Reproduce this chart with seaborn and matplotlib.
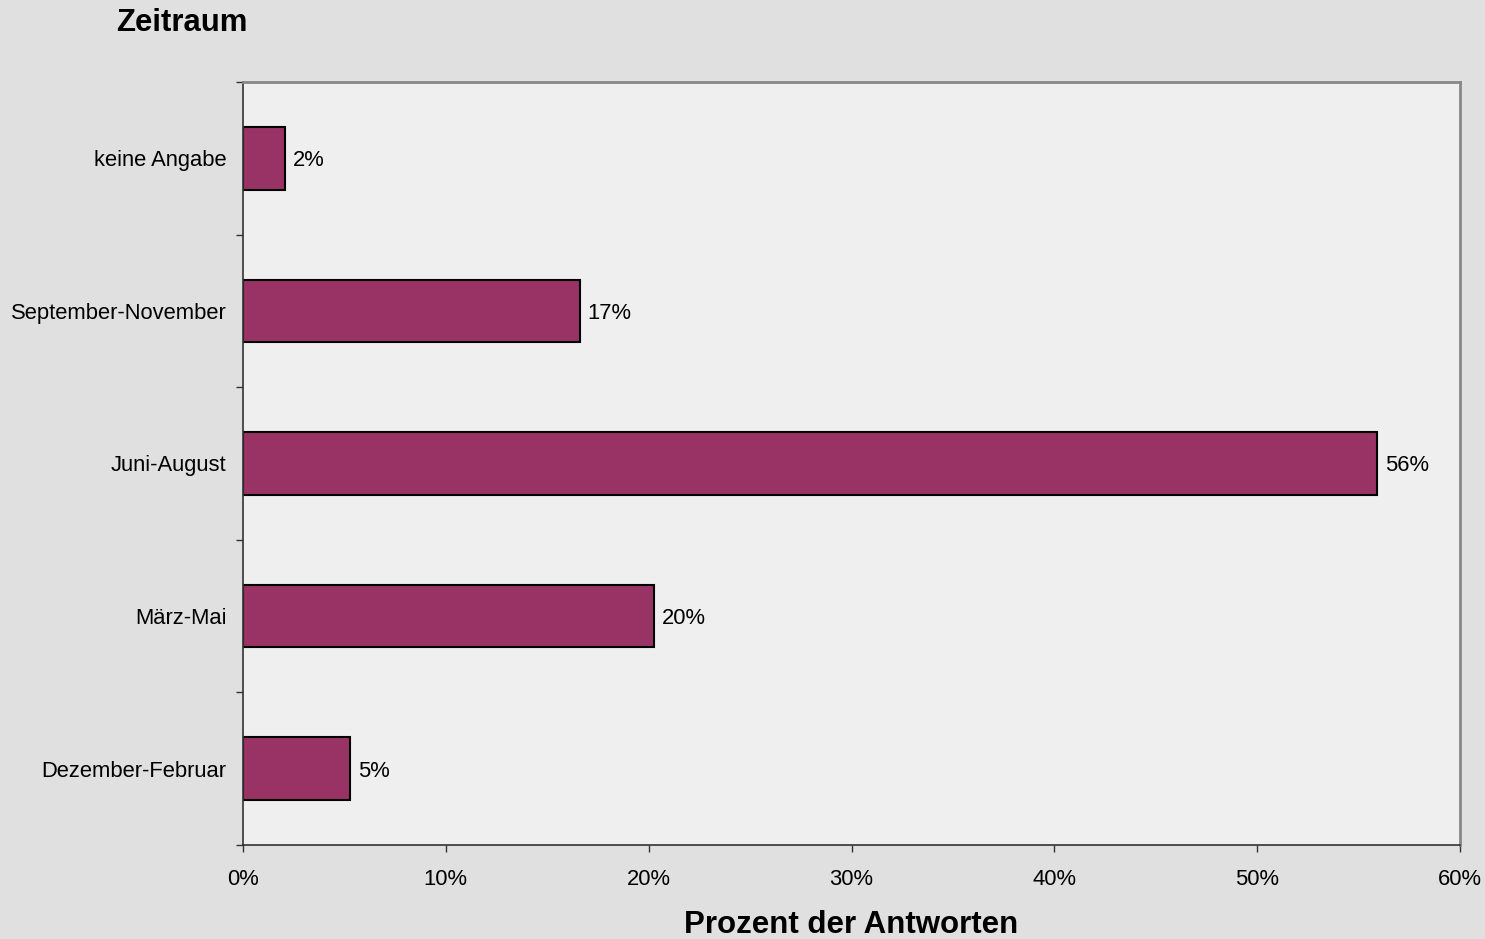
import matplotlib
matplotlib.use("Agg")
import matplotlib.pyplot as plt
import seaborn as sns
import numpy as np
import pandas as pd

# data (top to bottom as shown)
categories = ["keine Angabe", "September-November", "Juni-August", "März-Mai", "Dezember-Februar"]
percent = [2.07, 16.6, 55.9, 20.25, 5.28]
x_ticks = [0, 10, 20, 30, 40, 50, 60]

BAR_COLOR = "#993366"
FIG_BG = "#e0e0e0"
AX_BG = "#efefef"

sns.set_style("white")
plt.rcParams["font.family"] = ["Liberation Sans", "DejaVu Sans"]
plt.rcParams["text.color"] = "black"
plt.rcParams["axes.labelcolor"] = "black"
plt.rcParams["xtick.color"] = "black"
plt.rcParams["ytick.color"] = "black"

df = pd.DataFrame({"Zeitraum": categories, "Prozent": percent})

fig = plt.figure(figsize=(14.85, 9.39), dpi=100, facecolor=FIG_BG)
ax = fig.add_axes([243 / 1485, 1 - 845 / 939, (1460 - 243) / 1485, (845 - 82) / 939])
ax.set_facecolor(AX_BG)

sns.barplot(data=df, x="Prozent", y="Zeitraum", order=categories, orient="h",
            color=BAR_COLOR, saturation=1, width=0.41,
            edgecolor="black", linewidth=1.5, ax=ax)

for i, v in enumerate(percent):
    ax.text(v + 0.4, i, f"{round(v):.0f}%", va="center_baseline", ha="left",
            fontsize=15.8, color="black")

ax.set_xlim(0, 60)
ax.set_ylim(len(categories) - 0.5, -0.5)
ax.set_xticks(x_ticks)
ax.set_xticklabels([f"{t}%" for t in x_ticks], fontsize=15.8)
ax.tick_params(axis="x", direction="out", length=5, width=1, pad=12, color="#333333", bottom=True)
ax.tick_params(axis="y", which="major", length=0, pad=12, labelsize=15.8)
ax.set_yticks(np.arange(len(categories) + 1) - 0.5, minor=True)
ax.tick_params(axis="y", which="minor", direction="out", length=5, width=1, color="#333333", left=True)

for side in ["left", "bottom"]:
    ax.spines[side].set_color("#333333")
    ax.spines[side].set_linewidth(1.2)
for side in ["top", "right"]:
    ax.spines[side].set_visible(True)
    ax.spines[side].set_color("#888888")
    ax.spines[side].set_linewidth(2)

ax.set_ylabel("")
ax.set_xlabel("Prozent der Antworten", fontsize=22.5, fontweight="bold", labelpad=14.5)

fig.text(116 / 1485, 1 - 8 / 939, "Zeitraum", fontsize=22.4, fontweight="bold",
         ha="left", va="top")

fig.savefig("out.png", dpi=100, facecolor=FIG_BG)
